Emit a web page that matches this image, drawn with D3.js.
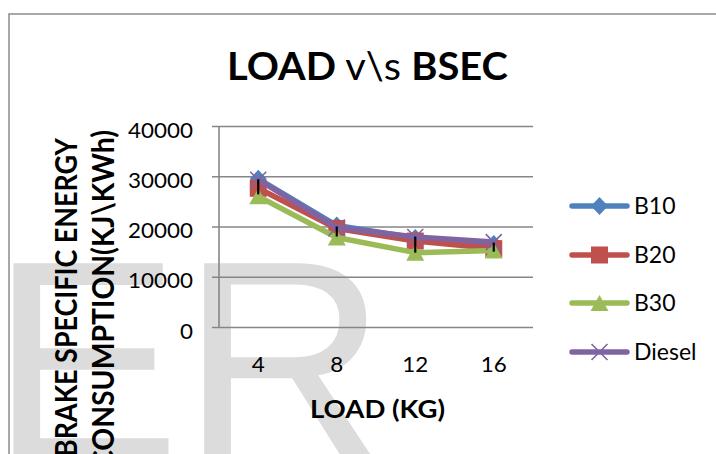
<!DOCTYPE html>
<html>
<head>
<meta charset="utf-8">
<script src="https://cdn.jsdelivr.net/npm/d3@7/dist/d3.min.js"></script>
<style>
  html, body { margin: 0; padding: 0; background: #ffffff; }
  svg { display: block; }
</style>
</head>
<body>
<div id="chart"></div>
<script>
// Load categories (kg) and brake specific energy consumption (kJ/kWh)
const categories = ["4", "8", "12", "16"];
const seriesNames = ["B10", "B20", "B30", "Diesel"];
const b10 = [29500, 20200, 17700, 16500];
const b20 = [27600, 19600, 17100, 15600];
const b30 = [26000, 17800, 14800, 15200];
const diesel = [29300, 19800, 17900, 16900];
const errLow = [26400, 18000, 14800, 15000];
const errHigh = [29400, 20000, 18000, 16800];
const yTicks = [0, 10000, 20000, 30000, 40000];
const seriesColors = ["#4F81BD", "#C0504D", "#9BBB59", "#8064A2"];
const markerKinds = ["diamond", "square", "triangle", "cross"];

const W = 716, H = 454;
const plot = { left: 219, right: 533, top: 126, bottom: 327 };
const font = "Lato, 'Open Sans', sans-serif";
const digitWidth = 13;

const svg = d3.select("#chart").append("svg")
  .attr("width", W).attr("height", H)
  .attr("viewBox", `0 0 ${W} ${H}`);

// Background watermark lettering
svg.append("text")
  .attr("x", -10).attr("y", 460)
  .attr("font-family", "'Liberation Sans', Arial, sans-serif")
  .attr("font-size", 286)
  .attr("fill", "#dcdcdc")
  .text("ER");

// Chart frame
svg.append("rect")
  .attr("x", 9).attr("y", 14)
  .attr("width", W + 20).attr("height", H + 20)
  .attr("fill", "none")
  .attr("stroke", "#8c8c8c")
  .attr("stroke-width", 1.5);

const x = d3.scaleBand().domain(categories).range([plot.left, plot.right]);
const y = d3.scaleLinear().domain([0, 40000]).range([plot.bottom, plot.top]);
const cx = c => x(c) + x.bandwidth() / 2;

// Y axis with gridlines
const yAxis = svg.append("g")
  .attr("transform", `translate(${plot.left},0)`)
  .call(d3.axisLeft(y).tickValues(yTicks).tickSizeOuter(0).tickFormat(d3.format("d")));
yAxis.select(".domain").remove();
yAxis.selectAll(".tick line")
  .attr("x1", -7).attr("x2", plot.right - plot.left)
  .attr("stroke", "#868686").attr("stroke-width", 1.6);
yAxis.selectAll(".tick text")
  .attr("x", -26).attr("y", 11).attr("dy", 0)
  .attr("font-family", font).attr("font-size", 22)
  .attr("fill", "#000")
  .attr("textLength", function () { return this.textContent.length * digitWidth; })
  .attr("lengthAdjust", "spacingAndGlyphs");

// Vertical axis line
svg.append("line")
  .attr("x1", plot.left).attr("x2", plot.left)
  .attr("y1", plot.top).attr("y2", plot.bottom)
  .attr("stroke", "#868686").attr("stroke-width", 1.6);

// X axis labels
const xAxis = svg.append("g")
  .attr("transform", `translate(0,${plot.bottom})`)
  .call(d3.axisBottom(x).tickSize(0));
xAxis.select(".domain").remove();
xAxis.selectAll(".tick text")
  .attr("y", 45).attr("dy", 0)
  .attr("font-family", font).attr("font-size", 22)
  .attr("fill", "#000")
  .attr("textLength", function () { return this.textContent.length * digitWidth; })
  .attr("lengthAdjust", "spacingAndGlyphs");

// Marker shapes
function drawMarker(g, kind, px, py, color) {
  if (kind === "diamond") {
    g.append("path")
      .attr("d", `M${px},${py - 9}L${px + 8.5},${py}L${px},${py + 9}L${px - 8.5},${py}Z`)
      .attr("fill", color);
  } else if (kind === "square") {
    g.append("rect")
      .attr("x", px - 8.5).attr("y", py - 8.5)
      .attr("width", 17).attr("height", 17)
      .attr("fill", color);
  } else if (kind === "triangle") {
    g.append("path")
      .attr("d", `M${px},${py - 8}L${px + 9},${py + 8}L${px - 9},${py + 8}Z`)
      .attr("fill", color);
  } else {
    g.append("path")
      .attr("d", `M${px - 8},${py - 8}L${px + 8},${py + 8}M${px + 8},${py - 8}L${px - 8},${py + 8}`)
      .attr("stroke", color).attr("stroke-width", 1.6).attr("fill", "none");
  }
}

const allSeries = [b10, b20, b30, diesel];
const line = d3.line().x((d, i) => cx(categories[i])).y(d => y(d));

allSeries.forEach((vals, si) => {
  const g = svg.append("g");
  g.append("path")
    .datum(vals)
    .attr("d", line)
    .attr("fill", "none")
    .attr("stroke", seriesColors[si])
    .attr("stroke-width", 5.5)
    .attr("stroke-linejoin", "round")
    .attr("stroke-linecap", "round");
  vals.forEach((v, i) => drawMarker(g, markerKinds[si], cx(categories[i]), y(v), seriesColors[si]));
});

// Error bars
svg.append("g").selectAll("line")
  .data(categories)
  .join("line")
  .attr("x1", c => cx(c)).attr("x2", c => cx(c))
  .attr("y1", (c, i) => y(errHigh[i]))
  .attr("y2", (c, i) => y(errLow[i]))
  .attr("stroke", "#000").attr("stroke-width", 2.2);

// Title
const title = svg.append("text")
  .attr("x", 227).attr("y", 80)
  .attr("font-family", font).attr("font-size", 39)
  .attr("fill", "#000")
  .attr("textLength", 281).attr("lengthAdjust", "spacingAndGlyphs");
title.append("tspan").attr("font-weight", "bold").text("LOAD");
title.append("tspan").attr("font-weight", "normal").text(" v\\s ");
title.append("tspan").attr("font-weight", "bold").text("BSEC");

// X axis title
svg.append("text")
  .attr("x", 310).attr("y", 418)
  .attr("font-family", font).attr("font-size", 25).attr("font-weight", "bold")
  .attr("fill", "#000")
  .attr("textLength", 135).attr("lengthAdjust", "spacingAndGlyphs")
  .text("LOAD (KG)");

// Y axis title (two lines, rotated)
const yTitleLines = [
  { text: "BRAKE SPECIFIC ENERGY", bx: 77, end: 138, len: 319 },
  { text: "CONSUMPTION(KJ\\KWh)", bx: 114, end: 130, len: 339 }
];
yTitleLines.forEach(l => {
  svg.append("text")
    .attr("transform", `translate(${l.bx},${l.end + l.len}) rotate(-90)`)
    .attr("x", 0).attr("y", 0)
    .attr("font-family", font).attr("font-size", 31).attr("font-weight", "bold")
    .attr("fill", "#000")
    .attr("textLength", l.len).attr("lengthAdjust", "spacingAndGlyphs")
    .text(l.text);
});

// Legend
const legendRows = [206, 255, 303, 352];
seriesNames.forEach((name, si) => {
  const g = svg.append("g");
  const ly = legendRows[si];
  g.append("line")
    .attr("x1", 572).attr("x2", 627).attr("y1", ly).attr("y2", ly)
    .attr("stroke", seriesColors[si]).attr("stroke-width", 5.5)
    .attr("stroke-linecap", "round");
  drawMarker(g, markerKinds[si], 599.5, ly, seriesColors[si]);
  g.append("text")
    .attr("x", 634).attr("y", ly).attr("dy", "0.36em")
    .attr("font-family", font).attr("font-size", 23)
    .attr("fill", "#000")
    .text(name);
});
</script>
</body>
</html>
